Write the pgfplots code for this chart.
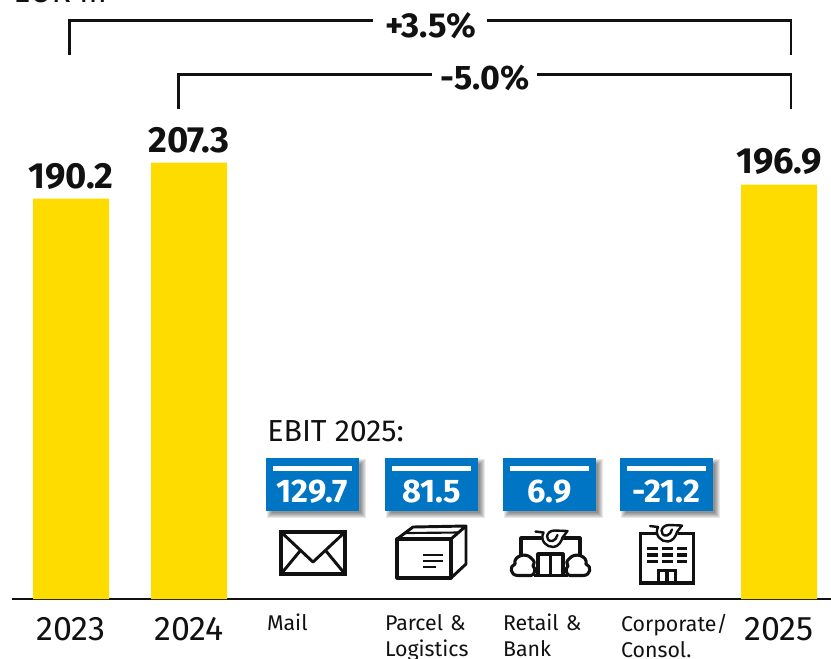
\documentclass[border=0pt]{standalone}
\usepackage{fontspec}
\setmainfont{Fira Sans}
\usepackage{pgfplots}
\pgfplotsset{compat=1.18}
\usepackage{pgfplotstable}
\definecolor{postyellow}{HTML}{FFDC00}
\definecolor{postblue}{HTML}{0075C4}
\definecolor{ink}{HTML}{111111}
\pgfplotstableread{
x value
0 190.2
1 207.3
6 196.9
}\ebit
\newcommand{\segbox}[2]{%
  \foreach \r in {3,2,1,0,-1,-2}{%
    \fill[black,opacity=0.09] ({#1+4-\r},{458+4-\r}) rectangle ({#1+93+4+\r},{511+4+\r});
  }
  \fill[postblue] (#1,458) rectangle ({#1+93},511);
  \fill[white] ({#1+7},465.5) rectangle ({#1+86},471);
  \node[text=white,font=\bfseries\fontsize{24.5}{27}\selectfont,anchor=mid,inner sep=0] at ({#1+46.5},499) {#2};
}
\newcommand{\posthorn}[2]{%
  \begin{scope}[shift={(#1,#2)}]
    \fill[white] (0,0) circle (11);
    \draw[ink,line width=1.8pt,line cap=round,line join=round]
      (-17,-6) -- (-9,-5) .. controls (-13,3) and (-6,10) .. (1,9.5)
      .. controls (6,9) and (9,4) .. (10,0) -- (15,-6.5) -- (2,-7)
      .. controls (-7,-7) and (-8,4.5) .. (0,3.5) .. controls (2.5,3) and (4,0.5) .. (5,-2.5);
  \end{scope}
}
\begin{document}
\begin{tikzpicture}
\path[use as bounding box,clip] (0,0) rectangle (623.25pt,-493.5pt);
\begin{axis}[
  at={(9pt,-449.25pt)},anchor=south west,
  scale only axis,
  width=614.25pt,height=449.25pt,
  xmin=-0.5,xmax=6.44,ymin=0,ymax=284.56,
  axis x line=bottom,axis y line=none,
  axis line style={-,line width=1.1pt,color=ink},
  clip=false,
  xtick={0,1,6},xticklabels={2023,2024,2025},
  extra x ticks={2,3,4,5},
  extra x tick labels={Mail,{Parcel \&\\Logistics},{Retail \&\\Bank},{Corporate/\\Consol.}},
  major tick length=0pt,
  xticklabel style={font=\fontsize{25.5}{29}\selectfont,text=ink,anchor=mid,yshift=-28.25pt},
  extra x tick style={xticklabel style={font=\fontsize{16}{19.5}\selectfont,text=ink,anchor=north,text width=84pt,align=left,inner sep=0pt,yshift=17pt,xshift=12pt}},
  ybar,bar width=57pt,bar shift=0pt,
  nodes near coords,
  point meta=explicit symbolic,
  every node near coord/.style={font=\bfseries\fontsize{27.3}{30}\selectfont,text=ink,anchor=south,inner sep=0pt,yshift=7pt},
]
\addplot[fill=postyellow,draw=none] table[x=x,y=value,meta=value] {\ebit};
\end{axis}
\begin{scope}[x=0.75pt,y=-0.75pt]
  \node[anchor=base west,inner sep=0,font=\fontsize{24}{26}\selectfont,text=ink] at (13,2) {EUR m};
  \draw[ink,line width=1.9pt] (69.7,55) -- (69.7,20.5) -- (373,20.5);
  \draw[ink,line width=1.9pt] (487,20.5) -- (791,20.5) -- (791,55);
  \node[font=\bfseries\fontsize{26}{28}\selectfont,text=ink,inner sep=0] at (430.5,25.5) {+3.5\%};
  \draw[ink,line width=1.9pt] (178.7,109) -- (178.7,74.5) -- (432,74.5);
  \draw[ink,line width=1.9pt] (537,74.5) -- (791,74.5) -- (791,109);
  \node[font=\bfseries\fontsize{25.5}{28}\selectfont,text=ink,inner sep=0] at (485,78) {-5.0\%};
  \node[anchor=base west,inner sep=0,font=\fontsize{22.8}{26}\selectfont,text=ink] at (267,441) {EBIT 2025:};
  \segbox{266}{129.7}
  \segbox{385}{81.5}
  \segbox{503}{6.9}
  \segbox{620}{-21.2}
  % envelope
  \draw[ink,line width=2.4pt,line join=miter] (281,532) rectangle (345,574);
  \draw[ink,line width=2.2pt,line join=round] (281,532) -- (313,562) -- (345,532);
  \draw[ink,line width=2.2pt] (281,574) -- (300,551) (345,574) -- (326,551);
  % parcel
  \draw[ink,line width=2.4pt,line join=round] (397,539) rectangle (451,578);
  \draw[ink,line width=2.2pt,line join=round] (397,539) -- (413,527) -- (466,526) -- (451,539) (466,526) -- (466,564) -- (451,578);
  \draw[ink,line width=1.6pt] (406,533) -- (459,532.5);
  \draw[ink,line width=1.8pt] (423,555) -- (443,555) (423,561) -- (443,561) (423,567) -- (436,567);
  % retail
  \draw[ink,line width=2.3pt,line join=round] (521,557) -- (521,538) -- (580,538) -- (580,557);
  \draw[ink,line width=2.3pt,line join=round] (538,575) -- (538,554) -- (563,554) -- (563,575) (550.5,554) -- (550.5,575);
  \draw[ink,line width=2.3pt,line join=round] (534,575.5) -- (568,575.5);
  \draw[ink,line width=2.3pt,line join=round,fill=white] (518,575.5) .. controls (510,575.5) and (509,566) .. (515,564) .. controls (513,556) and (526,552) .. (531,558) .. controls (535,561) and (535,564) .. (533,566) .. controls (536,568) and (535,575.5) .. (531,575.5) -- cycle;
  \draw[ink,line width=2.3pt,line join=round,fill=white] (583,575.5) .. controls (591,575.5) and (592,566) .. (586,564) .. controls (588,556) and (575,552) .. (570,558) .. controls (566,561) and (566,564) .. (568,566) .. controls (565,568) and (566,575.5) .. (570,575.5) -- cycle;
  \posthorn{552.5}{537.5}
  % corporate
  \draw[ink,line width=2.5pt,line join=miter] (640.5,533.5) rectangle (693.5,583);
  \draw[ink,line width=2.4pt] (647,548.3) -- (658,548.3) (662,548.3) -- (673,548.3) (677,548.3) -- (687,548.3)
    (647,555) -- (658,555) (662,555) -- (673,555) (677,555) -- (687,555)
    (647,561.7) -- (658,561.7) (662,561.7) -- (673,561.7) (677,561.7) -- (687,561.7);
  \draw[ink,line width=2.3pt] (658.5,583) -- (658.5,570.5) -- (675.5,570.5) -- (675.5,583) (667,570.5) -- (667,583);
  \posthorn{667}{532}
\end{scope}
\end{tikzpicture}
\end{document}
